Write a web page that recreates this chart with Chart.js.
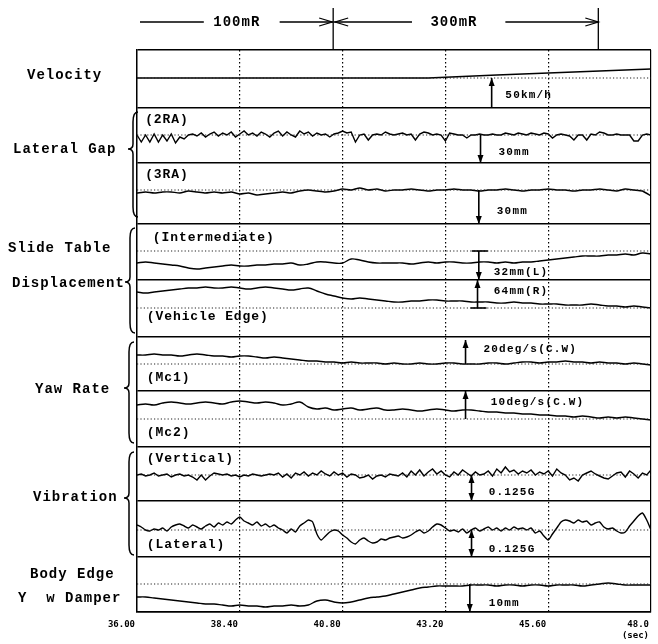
<!DOCTYPE html>
<html>
<head>
<meta charset="utf-8">
<script src="https://cdn.jsdelivr.net/npm/chart.js@4.4.1/dist/chart.umd.min.js"></script>
<style>
html, body { margin: 0; padding: 0; background: #fff; }
canvas { display: block; }
</style>
</head>
<body>
<canvas id="grafica" width="658" height="644"></canvas>
<script>
// eje de tiempo (s)
const tickSecs = [36, 38.4, 40.8, 43.2, 45.6, 48];
const tickLabels = ['36.00', '38.40', '40.80', '43.20', '45.60', ['48.0', '(sec)']];

// separaciones de carril y lineas de referencia (unidades del papel, 0 = abajo)
const laneEdges = [0, 55, 111, 165, 221, 275, 332, 388, 449, 504, 562];
const refVelocity = 534, ref2RA = 477, ref3RA = 422, refInter = 361, refVehEdge = 304;
const refMc1 = 248, refMc2 = 193, refVert = 137, refLat = 82, refBody = 28;

// velocidad (pocos puntos, casi recta)
const velTimes = [36, 38.4, 40.8, 42.8, 43.6, 44.4, 45.6, 46.8, 48];
const velocity = [0, 0, 0, 0, 1.5, 3, 5, 7, 9];

// muestreo cada 0.1 s (121) y cada 0.2 s (61)
const gap2RA = [0,-7,0,-7,1,-7,0,-6,1,-8,-2,
  -4,0,1,-1,2,-2,1,3,-1,2,
  0,3,-2,1,4,0,2,-1,3,1,
  -2,2,4,-1,3,0,-2,4,1,3,
  -1,2,0,1,-2,1,2,4,2,3,
  -7,0,1,-5,0,1,0,3,1,0,
  1,2,0,1,-5,1,3,2,0,1,
  0,-6,2,1,0,0,-3,0,0,1,
  0,0,1,0,0,2,1,0,2,1,
  0,2,1,0,2,1,-3,0,1,0,
  -1,-5,0,0,-5,1,0,3,2,0,
  0,1,0,0,0,-6,-6,0,1,0];
const gap3RA = [-3,-2,-3,-2,-2,-3,-1,-2,-3,-2,
  -3,-2,-4,-3,-5,-4,-3,-2,-3,-1,
  0,-1,-2,-1,1,0,2,0,1,-1,
  0,0,1,0,-1,0,0,1,0,0,
  -1,0,0,1,0,-1,0,0,1,0,
  0,-1,0,0,1,0,-1,1,0,-1,
  -6];
const intermediate = [-12,-11,-12,-13,-14,-15,-17,-18,-17,-16,
  -15,-14,-15,-15,-14,-14,-13,-13,-12,-14,
  -13,-11,-11,-12,-12,-8,-9,-11,-12,-12,
  -12,-12,-13,-12,-11,-12,-11,-11,-12,-12,
  -11,-11,-12,-11,-12,-11,-11,-10,-9,-8,
  -7,-6,-5,-5,-5,-4,-4,-3,-4,-2,
  -3];
const vehicleEdge = [16,15,16,17,18,19,20,20,21,20,
  20,21,20,19,20,21,20,19,18,19,
  20,17,14,12,10,9,10,9,8,7,
  6,6,7,7,8,8,7,7,7,6,
  6,6,5,5,6,5,5,4,4,4,
  3,3,3,4,3,2,2,1,2,1,
  0];
const yawMc1 = [9,9,10,9,9,8,9,10,9,8,
  8,7,8,8,7,6,7,6,5,4,
  3,3,2,2,1,2,1,1,1,0,
  1,0,0,1,0,0,1,1,0,0,
  0,1,1,0,1,2,2,1,2,2,
  3,2,2,1,2,1,1,0,1,0,
  -1];
const yawMc2 = [14,15,14,16,17,16,15,16,17,16,
  15,17,18,17,16,17,16,14,15,17,
  12,10,11,9,10,11,9,10,11,9,
  9,10,9,8,9,10,9,8,9,9,
  8,7,7,6,6,5,5,4,4,3,
  3,2,3,2,1,2,1,2,1,0,
  -1];
const vibVertical = [0,1,-1,0,2,-1,0,1,-2,0,1,
  -1,0,-2,-5,0,-5,-1,2,1,0,
  1,-1,0,-2,0,-1,1,0,-1,0,
  1,0,2,-2,1,-3,2,0,3,-1,
  2,0,4,1,-1,3,0,2,-2,1,
  0,-3,-2,0,-4,-1,0,-2,1,0,
  -1,2,-2,4,0,5,-1,3,6,1,
  4,0,-2,3,0,5,2,-1,3,0,
  1,4,-1,6,2,8,3,5,1,4,
  2,5,0,3,1,4,-1,6,2,0,
  -5,-3,-6,0,2,4,1,-1,-3,-4,
  -1,2,3,-2,4,1,-3,2,0,5];
const vibLateral = [5,3,0,-1,1,0,2,-1,3,5,6,
  4,2,5,3,1,4,6,3,7,5,
  8,6,10,13,9,7,5,8,4,6,
  3,5,2,0,-3,1,-2,4,7,10,
  8,-4,-10,-6,-2,0,-1,-5,-8,-12,
  -14,-10,-8,-11,-13,-12,-9,-10,-8,-7,
  -6,-8,-7,-5,-2,0,-3,-1,3,6,
  5,2,-1,0,-2,1,-3,0,2,-1,
  1,3,0,2,-1,2,0,3,1,2,
  0,2,-3,-1,-6,-10,-4,2,8,10,
  9,7,10,8,9,5,7,8,3,1,
  2,-1,-3,-2,4,9,14,17,10,0];
const bodyEdge = [-13,-13,-14,-15,-16,-17,-18,-19,-20,-20,
  -21,-22,-21,-22,-22,-23,-22,-22,-21,-22,
  -21,-17,-16,-18,-19,-18,-16,-14,-13,-12,
  -10,-8,-6,-4,-3,-2,-2,-2,-2,-1,
  -1,-1,-2,-1,-1,-2,-1,-1,-2,-1,
  -1,-1,-2,-1,0,1,0,-1,-1,-1,
  -1];

// rejillas de tiempo
const t01 = [], t02 = [];
for (let i = 0; i <= 120; i++) t01.push(Math.round((36 + i * 0.1) * 10) / 10);
for (let i = 0; i <= 60; i++) t02.push(Math.round((36 + i * 0.2) * 10) / 10);

const pts = (times, vals, base) => vals.map((v, i) => ({x: times[i], y: base + v}));
const traza = (times, vals, base, tension) => ({
  data: pts(times, vals, base),
  borderColor: '#000', borderWidth: 1.4, pointRadius: 0, tension: tension, fill: false
});
const punteada = base => ({
  data: [{x: 36, y: base}, {x: 48, y: base}],
  borderColor: '#222', borderWidth: 1.1, borderDash: [1.2, 2.2], pointRadius: 0, fill: false
});

const refs = [refVelocity, ref2RA, ref3RA, refInter, refVehEdge, refMc1, refMc2, refVert, refLat, refBody];
const datasets = refs.map(punteada).concat([
  traza(velTimes, velocity, refVelocity, 0),
  traza(t01, gap2RA, ref2RA, 0),
  traza(t02, gap3RA, ref3RA, 0.2),
  traza(t02, intermediate, refInter, 0.4),
  traza(t02, vehicleEdge, refVehEdge, 0.4),
  traza(t02, yawMc1, refMc1, 0.4),
  traza(t02, yawMc2, refMc2, 0.4),
  traza(t01, vibVertical, refVert, 0),
  traza(t01, vibLateral, refLat, 0.2),
  traza(t02, bodyEdge, refBody, 0.4)
]);

// textos y marcas (posiciones de dibujo)
const monoFont = '"Liberation Mono", "DejaVu Sans Mono", monospace';
const sideLabels = [
  ['Velocity', 27, 75], ['Lateral Gap', 13, 149], ['Slide Table', 8, 248], ['Displacement', 12, 283],
  ['Yaw Rate', 35, 389], ['Vibration', 33, 497], ['Body Edge', 30, 574], ['Y  w Damper', 18, 598]
];
const laneLabels = [
  ['(2RA)', 36.19, 492], ['(3RA)', 36.19, 437], ['(Intermediate)', 36.37, 374], ['(Vehicle Edge)', 36.23, 295],
  ['(Mc1)', 36.23, 234], ['(Mc2)', 36.23, 179], ['(Vertical)', 36.23, 153], ['(Lateral)', 36.23, 67]
];
const escalas = [
  {t: 44.28, de: 504, a: 534, txt: '50km/h', tx: 44.6, tv: 517},
  {t: 44.02, de: 477, a: 449, txt: '30mm', tx: 44.44, tv: 460},
  {t: 43.98, de: 422, a: 388, txt: '30mm', tx: 44.40, tv: 401},
  {t: 43.98, de: 361, a: 332, txt: '32mm(L)', tx: 44.33, tv: 340, barra: true},
  {t: 43.95, de: 304, a: 332, txt: '64mm(R)', tx: 44.33, tv: 321, barra: true},
  {t: 43.67, de: 248, a: 272, txt: '20deg/s(C.W)', tx: 44.09, tv: 263},
  {t: 43.67, de: 193, a: 221, txt: '10deg/s(C.W)', tx: 44.26, tv: 210},
  {t: 43.81, de: 137, a: 111, txt: '0.125G', tx: 44.21, tv: 120, doble: true},
  {t: 43.81, de: 82, a: 55, txt: '0.125G', tx: 44.21, tv: 63, doble: true},
  {t: 43.77, de: 28, a: 0, txt: '10mm', tx: 44.21, tv: 9}
];
const llaves = [
  {x: 138, de: 500, a: 395, punta: 463},
  {x: 135, de: 384, a: 279, punta: 330},
  {x: 134, de: 270, a: 169, punta: 224},
  {x: 134, de: 160, a: 57, punta: 114}
];
const curvas = [40.58, 46.77];

function punta(ctx, x, y, dir) {
  ctx.beginPath();
  ctx.moveTo(x, y);
  ctx.lineTo(x - 3, y - dir * 8);
  ctx.lineTo(x + 3, y - dir * 8);
  ctx.closePath();
  ctx.fill();
}

function chevron(ctx, x, y, dir) {
  ctx.beginPath();
  ctx.moveTo(x - dir * 13, y - 4);
  ctx.lineTo(x, y);
  ctx.lineTo(x - dir * 13, y + 4);
  ctx.stroke();
}

function llave(ctx, x, y1, y2, ym, w) {
  const xm = x - w / 2;
  ctx.beginPath();
  ctx.moveTo(x, y1);
  ctx.quadraticCurveTo(xm, y1, xm, y1 + w);
  ctx.lineTo(xm, ym - w / 2);
  ctx.quadraticCurveTo(xm, ym, x - w, ym);
  ctx.quadraticCurveTo(xm, ym, xm, ym + w / 2);
  ctx.lineTo(xm, y2 - w);
  ctx.quadraticCurveTo(xm, y2, x, y2);
  ctx.stroke();
}

const marcas = {
  id: 'marcas',
  afterDraw(chart) {
    const ctx = chart.ctx;
    const X = t => chart.scales.x.getPixelForValue(t);
    const Y = v => chart.scales.y.getPixelForValue(v);
    const top = chart.chartArea.top;
    ctx.save();
    ctx.fillStyle = '#000';
    ctx.strokeStyle = '#000';
    ctx.textBaseline = 'middle';
    ctx.textAlign = 'left';

    // cabecera 100mR / 300mR
    ctx.lineWidth = 1.3;
    curvas.forEach(t => {
      ctx.beginPath(); ctx.moveTo(X(t), top - 42); ctx.lineTo(X(t), top); ctx.stroke();
    });
    const hy = top - 28;
    ctx.beginPath();
    ctx.moveTo(X(36.07), hy); ctx.lineTo(X(37.56), hy);
    ctx.moveTo(X(39.33), hy); ctx.lineTo(X(curvas[0]), hy);
    ctx.moveTo(X(curvas[0]) + 1, hy); ctx.lineTo(X(42.42), hy);
    ctx.moveTo(X(44.6), hy); ctx.lineTo(X(curvas[1]), hy);
    ctx.stroke();
    chevron(ctx, X(curvas[0]) - 1, hy, 1);
    chevron(ctx, X(curvas[0]) + 2, hy, -1);
    chevron(ctx, X(curvas[1]), hy, 1);
    ctx.font = 'bold 14px ' + monoFont;
    ctx.letterSpacing = '1px';
    ctx.textAlign = 'center';
    ctx.fillText('100mR', X(38.33), hy);
    ctx.fillText('300mR', X(43.4), hy);
    ctx.textAlign = 'left';

    // etiquetas de la izquierda
    ctx.font = 'bold 14px ' + monoFont;
    ctx.letterSpacing = '1px';
    sideLabels.forEach(([s, x, y]) => ctx.fillText(s, x, y));

    // llaves
    ctx.lineWidth = 1.5;
    llaves.forEach(b => llave(ctx, b.x, Y(b.de), Y(b.a), Y(b.punta), 10));

    // etiquetas dentro de los carriles
    ctx.font = 'bold 13px ' + monoFont;
    ctx.letterSpacing = '0.9px';
    laneLabels.forEach(([s, t, v]) => ctx.fillText(s, X(t), Y(v)));

    // flechas de escala
    ctx.font = 'bold 11px ' + monoFont;
    ctx.letterSpacing = '1.2px';
    ctx.lineWidth = 1.6;
    escalas.forEach(e => {
      const x = X(e.t), y1 = Y(e.de), y2 = Y(e.a);
      const dir = Math.sign(y2 - y1);
      ctx.beginPath(); ctx.moveTo(x, y1); ctx.lineTo(x, y2); ctx.stroke();
      punta(ctx, x, y2, dir);
      if (e.doble) punta(ctx, x, y1, -dir);
      if (e.barra) {
        ctx.beginPath(); ctx.moveTo(x - 7, y1); ctx.lineTo(x + 9, y1); ctx.stroke();
      }
      ctx.fillText(e.txt, X(e.tx), Y(e.tv));
    });
    ctx.restore();
  }
};

const canva = document.getElementById('grafica').getContext('2d');
window.grafica = new Chart(canva, {
  type: 'line',
  data: {datasets: datasets},
  options: {
    responsive: false,
    animation: false,
    devicePixelRatio: 1,
    layout: {padding: {left: 137, right: 5, top: 50, bottom: 0}},
    plugins: {legend: {display: false}, tooltip: {enabled: false}},
    scales: {
      x: {
        type: 'linear', min: 36, max: 48,
        afterBuildTicks: s => { s.ticks = tickSecs.map(v => ({value: v})); },
        afterFit: s => { s.height = 32; },
        ticks: {
          autoSkip: false, maxRotation: 0, align: 'end', padding: 7, labelOffset: -2,
          color: '#000', font: {family: 'DejaVu Sans Mono', size: 9, weight: 'bold'},
          callback: (v, i) => tickLabels[i]
        },
        grid: {color: '#000', lineWidth: 1.2, drawTicks: false},
        border: {
          color: '#000', width: 1.4,
          dash: c => (c.index === 0 || c.index === tickSecs.length - 1) ? [] : [1.5, 2.5]
        }
      },
      y: {
        type: 'linear', min: 0, max: 562,
        afterBuildTicks: s => { s.ticks = laneEdges.map(v => ({value: v})); },
        afterFit: s => { s.width = 0; },
        ticks: {display: false},
        grid: {color: '#000', lineWidth: 1.4, drawTicks: false},
        border: {color: '#000', width: 1.4}
      }
    }
  },
  plugins: [marcas]
});
</script>
</body>
</html>
